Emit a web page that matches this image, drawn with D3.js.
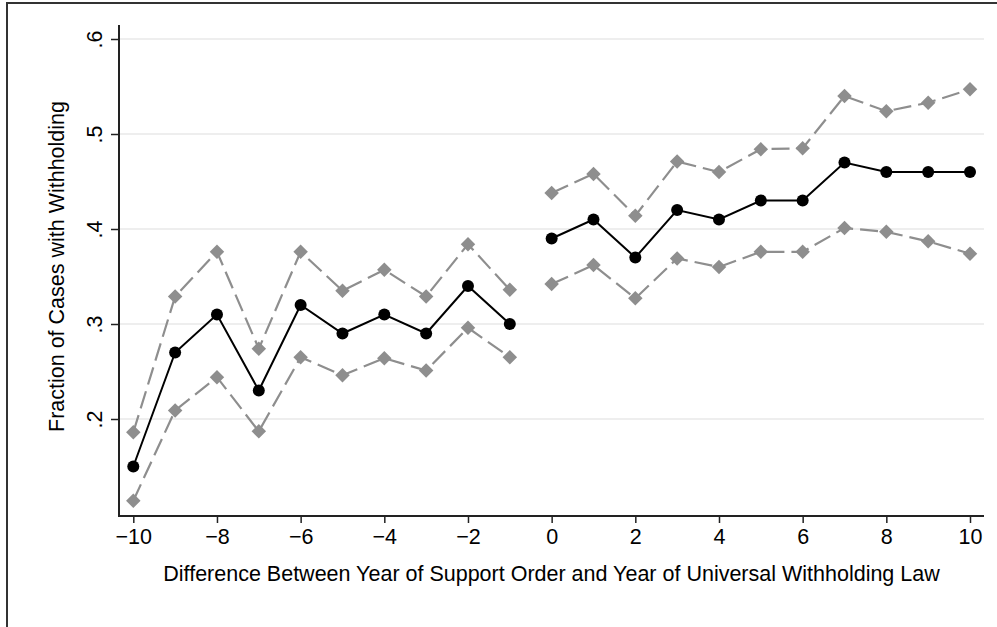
<!DOCTYPE html>
<html>
<head>
<meta charset="utf-8">
<script src="https://cdn.jsdelivr.net/npm/d3@7"></script>
<style>
html, body { margin: 0; padding: 0; background: #fff; overflow: hidden; }
svg { display: block; }
text { font-family: "Liberation Sans", Arial, sans-serif; fill: #000; }
</style>
</head>
<body>
<script>
var years = [-10,-9,-8,-7,-6,-5,-4,-3,-2,-1,0,1,2,3,4,5,6,7,8,9,10];
var fraction = [0.15,0.27,0.31,0.23,0.32,0.29,0.31,0.29,0.34,0.30,0.39,0.41,0.37,0.42,0.41,0.43,0.43,0.47,0.46,0.46,0.46];
var upper = [0.186,0.329,0.376,0.274,0.376,0.335,0.357,0.329,0.384,0.336,0.438,0.458,0.414,0.471,0.460,0.484,0.485,0.540,0.524,0.533,0.547];
var lower = [0.114,0.209,0.244,0.187,0.265,0.246,0.264,0.251,0.296,0.265,0.342,0.362,0.327,0.369,0.360,0.376,0.376,0.401,0.397,0.387,0.374];
var xTicks = [-10,-8,-6,-4,-2,0,2,4,6,8,10];
var yTicks = [0.2,0.3,0.4,0.5,0.6];
var yTickLabels = [".2",".3",".4",".5",".6"];

var w = 997, h = 627;
var fs = 21.5;
var svg = d3.select("body").append("svg").attr("width", w).attr("height", h);

// outer frame (only left and top edges fall inside the picture)
svg.append("path").attr("d", "M7," + h + "V3H" + w)
	.attr("fill", "none").attr("stroke", "#333").attr("stroke-width", 2);

var x = d3.scaleLinear().domain([-10, 10]).range([133.3, 970]);
var y = d3.scaleLinear().domain([0.2, 0.6]).range([419, 39]);
var axLeft = 119, axRight = 984, axBottom = 516, axTop = 25;

// gridlines
svg.selectAll(".grid").data(yTicks).enter().append("line")
	.attr("x1", axLeft).attr("x2", axRight)
	.attr("y1", function(d) { return y(d); }).attr("y2", function(d) { return y(d); })
	.attr("stroke", "#e8e8e8").attr("stroke-width", 1.5);

// y axis
var yAxis = d3.axisLeft(y).tickValues(yTicks).tickSize(8)
	.tickFormat(function(d, i) { return yTickLabels[i]; });
var gy = svg.append("g").attr("transform", "translate(" + axLeft + ",0)").call(yAxis);
gy.select(".domain").remove();
gy.selectAll(".tick line").attr("stroke", "#222").attr("stroke-width", 1.5);
gy.selectAll(".tick text").attr("font-size", fs).attr("x", 0).attr("dy", 0)
	.attr("text-anchor", "middle")
	.attr("transform", "translate(-17,0) rotate(-90)");

// x axis
var xAxis = d3.axisBottom(x).tickValues(xTicks).tickSize(7)
	.tickFormat(function(d) { return d < 0 ? "\u2212" + Math.abs(d) : d; });
var gx = svg.append("g").attr("transform", "translate(0," + axBottom + ")").call(xAxis);
gx.select(".domain").remove();
gx.selectAll(".tick line").attr("stroke", "#222").attr("stroke-width", 1.5);
gx.selectAll(".tick text").attr("font-size", fs).attr("y", 13).attr("dy", "0.71em");

// axis lines
svg.append("path").attr("d", "M" + axLeft + "," + axTop + "V" + axBottom + "H" + axRight)
	.attr("fill", "none").attr("stroke", "#222").attr("stroke-width", 2);

// titles
svg.append("text").attr("x", 551.5).attr("y", 581).attr("text-anchor", "middle")
	.attr("font-size", fs).text("Difference Between Year of Support Order and Year of Universal Withholding Law");
svg.append("text").attr("transform", "translate(64,266.5) rotate(-90)").attr("text-anchor", "middle")
	.attr("font-size", fs).text("Fraction of Cases with Withholding");

// series, broken between -1 and 0
var idx = d3.range(years.length);
var pre = idx.filter(function(i) { return years[i] < 0; });
var post = idx.filter(function(i) { return years[i] >= 0; });

function drawLine(vals, color, dash, width) {
	var line = d3.line().x(function(i) { return x(years[i]); }).y(function(i) { return y(vals[i]); });
	[pre, post].forEach(function(seg) {
		svg.append("path").attr("d", line(seg)).attr("fill", "none")
			.attr("stroke", color).attr("stroke-width", width)
			.attr("stroke-dasharray", dash);
	});
}

drawLine(upper, "#8e8e8e", "18,7", 2.2);
drawLine(lower, "#8e8e8e", "18,7", 2.2);
drawLine(fraction, "#000", null, 2);

var diamond = d3.symbol().type(d3.symbolSquare).size(105);
[upper, lower].forEach(function(vals) {
	svg.append("g").selectAll("path").data(idx).enter().append("path")
		.attr("d", diamond)
		.attr("transform", function(i) { return "translate(" + x(years[i]) + "," + y(vals[i]) + ") rotate(45)"; })
		.attr("fill", "#8e8e8e");
});

svg.append("g").selectAll("circle").data(idx).enter().append("circle")
	.attr("cx", function(i) { return x(years[i]); })
	.attr("cy", function(i) { return y(fraction[i]); })
	.attr("r", 6).attr("fill", "#000");
</script>
</body>
</html>
